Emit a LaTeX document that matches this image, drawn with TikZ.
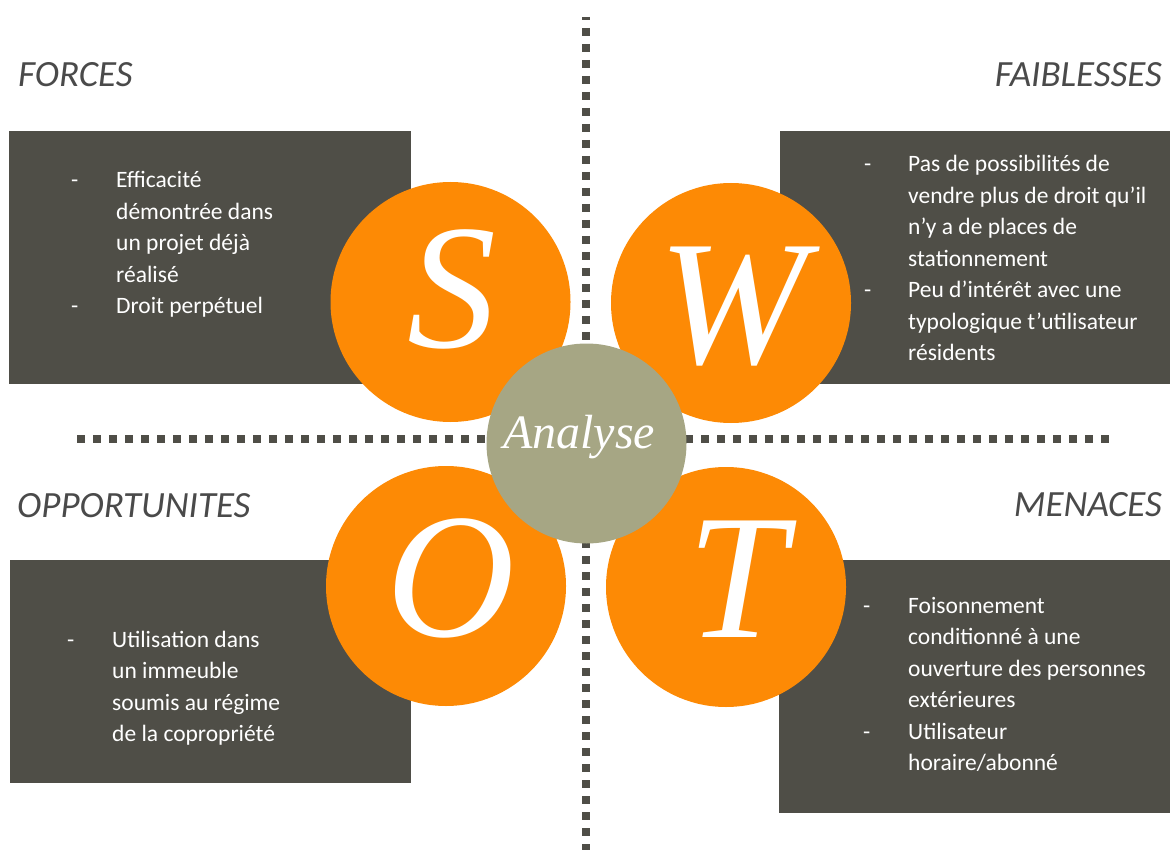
\documentclass[tikz,border=0pt]{standalone}
\usepackage{fontspec}
\setmainfont{Carlito}
\newfontfamily\swotserif{Liberation Serif}
\definecolor{boxgray}{HTML}{4F4E47}
\definecolor{swotorange}{HTML}{FD8A05}
\definecolor{hubgreen}{HTML}{A6A684}
\definecolor{headgray}{HTML}{4A4A4A}
\tikzset{
  petal/.style={circle, fill=swotorange, minimum size=240pt, inner sep=0pt},
  hub/.style={circle, fill=hubgreen, minimum size=200pt, inner sep=0pt},
  letter/.style={anchor=base, text=white, inner sep=0pt, font=\swotserif\itshape\fontsize{178}{178}\selectfont},
  hubtext/.style={anchor=base, text=white, inner sep=0pt, font=\swotserif\itshape\fontsize{48}{50}\selectfont},
  heading/.style={text=headgray, inner sep=0pt, font=\itshape\fontsize{37}{40}\selectfont},
  itemtext/.style={anchor=base west, text=white, inner sep=0pt, font=\fontsize{23.5}{31.5}\selectfont},
  dots/.style={boxgray, line width=8pt, dash pattern=on 8pt off 8pt},
}

\begin{document}
\begin{tikzpicture}[x=1pt, y=-1pt]
    \useasboundingbox (0,0) rectangle (1170,850);

    % boxes
    \fill [boxgray] (9,131) rectangle (411,384);
    \fill [boxgray] (780,131) rectangle (1170,384);
    \fill [boxgray] (10,560) rectangle (411,783);
    \fill [boxgray] (779,560) rectangle (1170,813);

    % headings
    \node[heading, anchor=base west] (forces) at (18,87) {FORCES};
    \node[heading, anchor=base east] (faiblesses) at (1162,87) {FAIBLESSES};
    \node[heading, anchor=base west] (opportunites) at (17,517) {OPPORTUNITES};
    \node[heading, anchor=base east] (menaces) at (1162,516) {MENACES};

    % box texts
    \node[itemtext] (ftext) at (71,188) {\begin{tabular}[t]{@{}p{45pt}@{}l@{}}
        - & Efficacité\\ & démontrée dans\\ & un projet déjà\\ & réalisé\\
        - & Droit perpétuel
    \end{tabular}};
    \node[itemtext] (wtext) at (864,172) {\begin{tabular}[t]{@{}p{44pt}@{}l@{}}
        - & Pas de possibilités de\\ & vendre plus de droit qu’il\\ & n’y a de places de\\ & stationnement\\
        - & Peu d’intérêt avec une\\ & typologique t’utilisateur\\ & résidents
    \end{tabular}};
    \node[itemtext] (otext) at (67,647) {\begin{tabular}[t]{@{}p{45pt}@{}l@{}}
        - & Utilisation dans\\ & un immeuble\\ & soumis au régime\\ & de la copropriété
    \end{tabular}};
    \node[itemtext] (ttext) at (863,613) {\begin{tabular}[t]{@{}p{45pt}@{}l@{}}
        - & Foisonnement\\ & conditionné à une\\ & ouverture des personnes\\ & extérieures\\
        - & Utilisateur\\ & horaire/abonné
    \end{tabular}};

    % petals
    \node[petal] (s) at (450.5,302) {};
    \node[petal] (w) at (731,303) {};
    \node[petal] (o) at (446,586) {};
    \node[petal] (t) at (726,587) {};
    \node[letter] (sletter) at (452,348) {S};
    \node[letter] (wletter) at (733,363) {W};
    \node[letter] (oletter) at (451,636) {O};
    \node[letter] (tletter) at (737,637) {T};

    % dotted axes
    \draw [dots, dash phase=5pt] (586,17) -- (586,850);
    \draw [dots] (77,439) -- (1109,439);

    % centre
    \node[hub] (hub) at (586.5,443.5) {};
    \node[hubtext] (analyse) at (579,448) {Analyse};
\end{tikzpicture}
\end{document}
